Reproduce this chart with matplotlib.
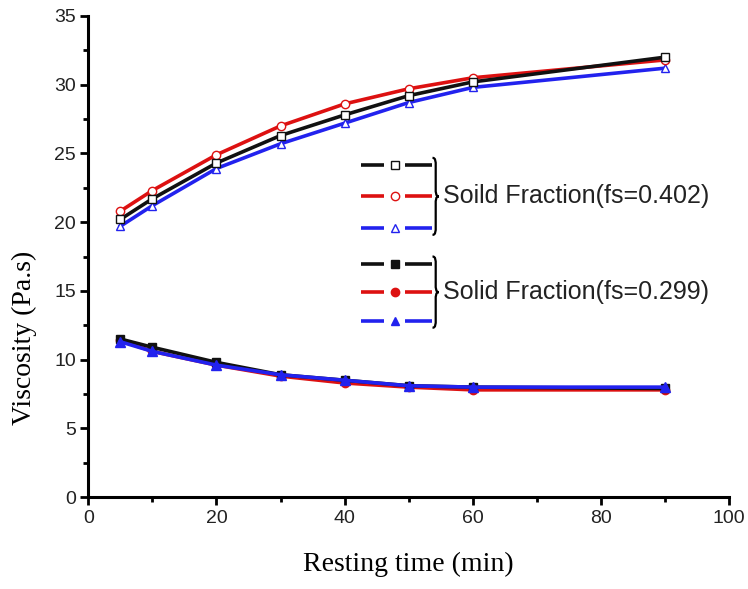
import matplotlib
matplotlib.use("Agg")
import matplotlib.pyplot as plt
from matplotlib.path import Path
from matplotlib.patches import PathPatch

time_min = [5, 10, 20, 30, 40, 50, 60, 90]

hi_black = [20.2, 21.7, 24.3, 26.3, 27.8, 29.2, 30.2, 32.0]
hi_red = [20.8, 22.3, 24.9, 27.0, 28.6, 29.7, 30.5, 31.8]
hi_blue = [19.7, 21.2, 23.9, 25.7, 27.2, 28.7, 29.8, 31.2]

lo_black = [11.5, 10.9, 9.8, 8.9, 8.5, 8.1, 8.0, 7.9]
lo_red = [11.4, 10.6, 9.6, 8.8, 8.3, 8.0, 7.8, 7.8]
lo_blue = [11.3, 10.6, 9.6, 8.9, 8.5, 8.1, 8.0, 8.0]

label_hi = "Soild Fraction(fs=0.402)"
label_lo = "Solid Fraction(fs=0.299)"

BLACK = "#111111"
RED = "#dd1111"
BLUE = "#2222ee"

fig = plt.figure(figsize=(7.48, 5.89), dpi=100)
ax = fig.add_axes([0.118, 0.156, 0.857, 0.817])

lw = 2.6
ms = 6.0
# upper group (hollow markers)
ax.plot(time_min, hi_blue, color=BLUE, lw=lw, marker="^", ms=ms, mfc="white", mec=BLUE, mew=1.0, zorder=3)
ax.plot(time_min, hi_red, color=RED, lw=lw, marker="o", ms=ms, mfc="white", mec=RED, mew=1.0, zorder=3)
ax.plot(time_min, hi_black, color=BLACK, lw=lw, marker="s", ms=ms - 0.5, mfc="white", mec=BLACK, mew=1.0, zorder=4)
# lower group (filled markers)
ax.plot(time_min, lo_red, color=RED, lw=lw, marker="o", ms=ms, mfc=RED, mec=RED, zorder=3)
ax.plot(time_min, lo_black, color=BLACK, lw=lw, marker="s", ms=ms, mfc=BLACK, mec=BLACK, zorder=4)
ax.plot(time_min, lo_blue, color=BLUE, lw=lw, marker="^", ms=ms + 1, mfc=BLUE, mec=BLUE, zorder=5)

ax.set_xlim(0, 100)
ax.set_ylim(0, 35)
ax.set_xticks([0, 20, 40, 60, 80, 100])
ax.set_xticks([10, 30, 50, 70, 90], minor=True)
ax.set_yticks([0, 5, 10, 15, 20, 25, 30, 35])
ax.set_yticks([2.5, 7.5, 12.5, 17.5, 22.5, 27.5, 32.5], minor=True)

for s in ["top", "right"]:
    ax.spines[s].set_visible(False)
for s in ["left", "bottom"]:
    ax.spines[s].set_linewidth(2.2)
ax.tick_params(which="major", direction="out", length=6, width=2.0, labelsize=14, pad=3)
ax.tick_params(which="minor", direction="out", length=3.5, width=2.0)
for lab in ax.get_xticklabels() + ax.get_yticklabels():
    lab.set_fontfamily("Liberation Sans")
    lab.set_color("#222222")

ax.set_xlabel("Resting time (min)", fontfamily="Liberation Serif", fontsize=20, labelpad=18)
ax.set_ylabel("Viscosity (Pa.s)", fontfamily="Liberation Serif", fontsize=20)
ax.yaxis.set_label_coords(-0.08, 0.33)

# custom legend
tr = ax.transAxes
rows_hi = [0.690, 0.626, 0.559]
rows_lo = [0.484, 0.426, 0.366]
cols = [BLACK, RED, BLUE]
mk = ["s", "o", "^"]
x1, x2, x3, x4, xm = 0.425, 0.462, 0.494, 0.536, 0.478

def legend_row(y, c, m, filled):
    ax.plot([x1, x2], [y, y], color=c, lw=2.6, transform=tr, clip_on=False, solid_capstyle="butt")
    ax.plot([x3, x4], [y, y], color=c, lw=2.6, transform=tr, clip_on=False, solid_capstyle="butt")
    ax.plot([xm], [y], marker=m, ms=6.0, mfc=(c if filled else "white"), mec=c, mew=1.0,
            transform=tr, clip_on=False, ls="none")

def brace(x, yt, yb, w=0.010, q=0.008):
    ym = (yt + yb) / 2
    xc = x + w / 2
    verts = [(x, yt), (xc, yt), (xc, yt - q), (xc, yt - 2 * q),
             (xc, ym + 2 * q),
             (xc, ym + q), (xc, ym), (x + w, ym),
             (xc, ym), (xc, ym - q), (xc, ym - 2 * q),
             (xc, yb + 2 * q),
             (xc, yb + q), (xc, yb), (x, yb)]
    codes = [Path.MOVETO, Path.CURVE4, Path.CURVE4, Path.CURVE4,
             Path.LINETO,
             Path.CURVE4, Path.CURVE4, Path.CURVE4,
             Path.CURVE4, Path.CURVE4, Path.CURVE4,
             Path.LINETO,
             Path.CURVE4, Path.CURVE4, Path.CURVE4]
    ax.add_patch(PathPatch(Path(verts, codes), transform=tr, fill=False, lw=1.6,
                           edgecolor="black", clip_on=False))

for y, c, m in zip(rows_hi, cols, mk):
    legend_row(y, c, m, False)
for y, c, m in zip(rows_lo, cols, mk):
    legend_row(y, c, m, True)

brace(0.537, 0.705, 0.545)
brace(0.537, 0.500, 0.352)

ax.text(0.553, 0.626, label_hi, transform=tr, fontsize=18, fontfamily="Liberation Sans",
        va="center", ha="left", color="#222222")
ax.text(0.553, 0.426, label_lo, transform=tr, fontsize=18, fontfamily="Liberation Sans",
        va="center", ha="left", color="#222222")

fig.savefig("out.png", dpi=100)
